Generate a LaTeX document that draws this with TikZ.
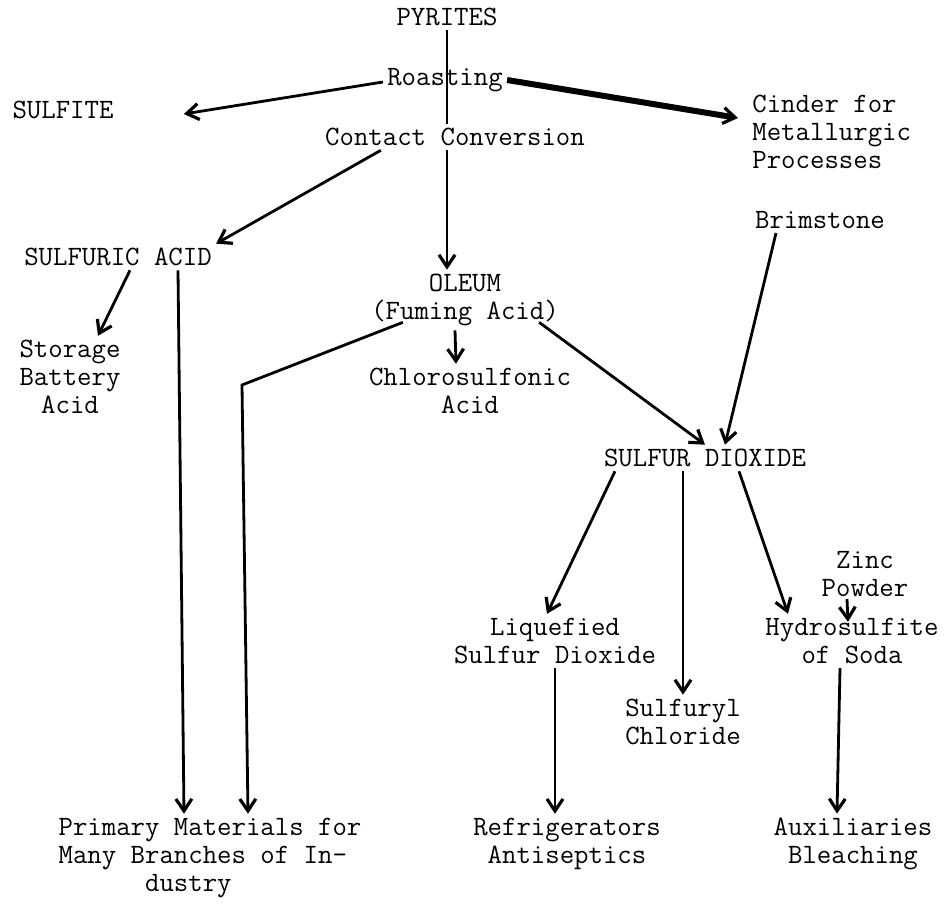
\documentclass[tikz,border=0pt]{standalone}
\usetikzlibrary{arrows.meta}
\begin{document}
\begin{tikzpicture}[x=0.5pt,y=-0.5pt,
        every node/.style={font=\fontsize{14pt}{14pt}\selectfont\ttfamily, inner sep=2pt, align=center},
        flow/.style={line width=1.4pt, -{Straight Barb[length=6pt,width=8pt,line width=1.6pt]}}]
        \useasboundingbox (0,0) rectangle (948,919);
        % upper part
        \node (pyr) at (447,17) {PYRITES};
        \node (roast) at (445,80) {Roasting};
        \node (sulfite) at (63,110) {SULFITE};
        \node[anchor=west, align=left] (cinder) at (748,132) {Cinder for\\Metallurgic\\Processes};
        \node (conv) at (455,137) {Contact Conversion};
        \node (brim) at (820,220) {Brimstone};
        \node (sulf) at (118,257) {SULFURIC ACID};
        \node (oleum) at (465,300) {OLEUM\\(Fuming Acid)};
        \node (storage) at (70,377) {Storage\\Battery\\Acid};
        \node (chloro) at (470,391) {Chlorosulfonic\\Acid};
        \node (dioxide) at (705,458) {SULFUR DIOXIDE};
        % lower part
        \node (zinc) at (865,574) {Zinc\\Powder};
        \node (liq) at (555,641) {Liquefied\\Sulfur Dioxide};
        \node (hydro) at (852,641) {Hydrosulfite\\of Soda};
        \node (sulfuryl) at (683,722) {Sulfuryl\\Chloride};
        \node[align=left] (primary) at (210,858) {Primary Materials for\\Many Branches of In-\\\phantom{Primar}dustry};
        \node (refr) at (567,844) {Refrigerators\\Antiseptics};
        \node (aux) at (853,844) {Auxiliaries\\Bleaching};
        % connectors
        \draw[line width=1.4pt] (pyr.south) -- (pyr.south |- conv.north);
        \draw[flow] (conv.south -| pyr.south) -- (pyr.south |- oleum.north);
        \draw[flow] ([yshift=-1pt]roast.west) -- ([xshift=33pt,yshift=-2pt]sulfite.east);
        \draw[flow, line width=3pt] (roast.east) -- ([xshift=-5pt,yshift=7pt]cinder.west);
        \draw[flow] ([xshift=30pt]conv.south west) -- (sulf.north east);
        \draw[flow] ([xshift=6pt]sulf.south) -- ([xshift=14pt]storage.north);
        \draw[flow] ([xshift=30pt]sulf.south) -- ([xshift=-13pt]primary.north);
        \coordinate (olbend) at (242,385);
        \draw[flow] ([xshift=18pt,yshift=4pt]oleum.south west) -- (olbend) -- ([xshift=19pt]primary.north);
        \draw[flow] ([xshift=-5pt]oleum.south) -- ([xshift=-7pt]chloro.north);
        \draw[flow] ([xshift=-12pt,yshift=4pt]oleum.south east) -- (dioxide.north);
        \draw[flow] ([xshift=-22pt]brim.south) -- ([xshift=10pt]dioxide.north);
        \draw[flow] ([xshift=-45pt]dioxide.south) -- ([xshift=-4pt]liq.north);
        \draw[flow] ([xshift=-11pt]dioxide.south) -- (sulfuryl.north);
        \draw[flow] ([xshift=17pt]dioxide.south) -- ([xshift=-32pt]hydro.north);
        \draw[flow] ([xshift=-9pt,yshift=1pt]zinc.south) -- ([xshift=-2pt,yshift=-4pt]hydro.north);
        \draw[flow] (liq.south) -- (liq.south |- refr.north);
        \draw[flow] ([xshift=-6pt]hydro.south) -- ([xshift=-8pt]aux.north);
\end{tikzpicture}
\end{document}
